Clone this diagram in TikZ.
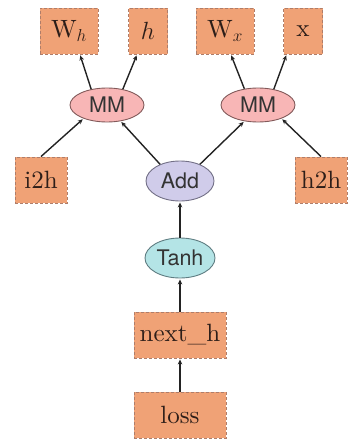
\documentclass[tikz,border=0pt]{standalone}
\usepackage{fontspec}
\newfontfamily\opfont{TeX Gyre Heros}
\newfontfamily\varfont{lmroman10-regular.otf}
\usetikzlibrary{shapes.geometric,arrows.meta}

\definecolor{boxfill}{RGB}{240,162,118}
\definecolor{boxline}{RGB}{175,125,105}
\definecolor{mmfill}{RGB}{248,182,182}
\definecolor{mmline}{RGB}{130,90,90}
\definecolor{addfill}{RGB}{208,204,234}
\definecolor{addline}{RGB}{115,112,135}
\definecolor{tanhfill}{RGB}{180,228,230}
\definecolor{tanhline}{RGB}{95,125,130}
\definecolor{edgecol}{RGB}{35,35,35}
\definecolor{vartext}{RGB}{45,30,25}

\tikzset{
  var/.style={rectangle, fill=boxfill, draw=boxline, densely dashed,
    line width=0.9pt, minimum height=46, inner sep=0,
    font=\varfont\fontsize{25}{30}\selectfont, text=vartext},
  op/.style={ellipse, inner sep=0, line width=0.9pt,
    font=\opfont\fontsize{21.5}{25}\selectfont, text=black!80},
  mmop/.style={op, fill=mmfill, draw=mmline, minimum width=74, minimum height=34},
  flow/.style={draw=edgecol, line width=1.4pt,
    -{Stealth[length=5pt,width=4.5pt]}, shorten >=1pt},
}

\begin{document}
\begin{tikzpicture}[x=1pt,y=-1pt]
  \useasboundingbox (0,0) rectangle (348,439);

  % leaf variables
  \node[var, minimum width=58] (wh)    at (69,31)  {W$_h$};
  \node[var, minimum width=39] (hv)    at (148,31) {$h$};
  \node[var, minimum width=58] (wx)    at (225,31) {W$_x$};
  \node[var, minimum width=39] (xv)    at (303,31) {x};
  \node[var, minimum width=52] (i2h)   at (41,180) {i2h};
  \node[var, minimum width=52] (h2h)   at (321,180) {h2h};
  \node[var, minimum width=92] (nexth) at (180,335) {next\_h};
  \node[var, minimum width=92] (loss)  at (180,415) {loss};

  % operations
  \node[mmop] (mml) at (107,105) {MM};
  \node[mmop] (mmr) at (258,105) {MM};
  \node[op, fill=addfill, draw=addline, minimum width=68, minimum height=40] (add) at (180,181) {Add};
  \node[op, fill=tanhfill, draw=tanhline, minimum width=70, minimum height=40] (tanh) at (180,258) {Tanh};

  % connectors
  \draw[flow] (mml.135) -- (wh.-65);
  \draw[flow] (mml.45)  -- (hv.-115);
  \draw[flow] (mmr.130) -- (wx.-76);
  \draw[flow] (mmr.45)  -- (xv.-125);
  \draw[flow] (i2h.north) -- (mml.210);
  \draw[flow] (add.140) -- (mml.-50);
  \draw[flow] (add.40)  -- (mmr.-130);
  \draw[flow] (h2h.north) -- (mmr.-30);
  \draw[flow] (tanh) -- (add);
  \draw[flow] (nexth) -- (tanh);
  \draw[flow] (loss) -- (nexth);
\end{tikzpicture}
\end{document}
